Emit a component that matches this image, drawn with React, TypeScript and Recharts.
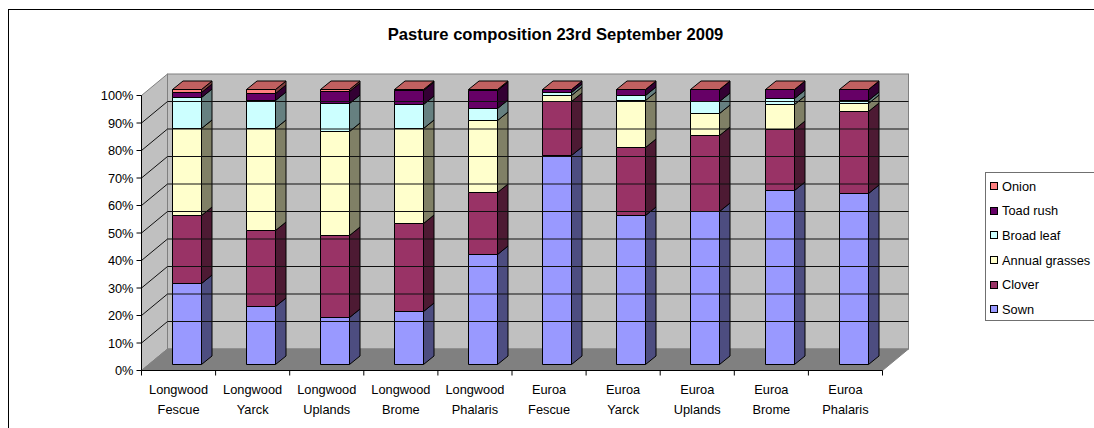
import { BarChart, Bar, XAxis, YAxis, Legend, ReferenceArea, ReferenceLine } from "recharts"

const categories = [
  "Longwood Fescue", "Longwood Yarck", "Longwood Uplands", "Longwood Brome", "Longwood Phalaris",
  "Euroa Fescue", "Euroa Yarck", "Euroa Uplands", "Euroa Brome", "Euroa Phalaris",
]
const sown = [29.3, 20.9, 16.9, 19.1, 40, 75.8, 54.1, 55.3, 63, 62.1]
const clover = [24.8, 27.7, 29.9, 32, 22.4, 19.6, 24.6, 27.7, 22.1, 29.6]
const annualGrasses = [31.4, 36.9, 37.8, 34.5, 26.1, 2.1, 17.3, 8, 9.1, 3.1]
const broadLeaf = [11.5, 10.3, 10.3, 8.8, 4.4, 1.2, 1.5, 4.3, 2.4, 0.9]
const toadRush = [1.8, 2.4, 4.2, 5, 6.4, 1.2, 2.4, 4.6, 3.3, 4.2]
const onion = [1.2, 1.8, 0.9, 0.6, 0.7, 0.1, 0.1, 0.1, 0.1, 0.1]
const yTicks = [0, 10, 20, 30, 40, 50, 60, 70, 80, 90, 100]
const gridTicks = [10, 20, 30, 40, 50, 60, 70, 80, 90]

const data = categories.map((name, i) => ({
  name,
  Sown: sown[i],
  Clover: clover[i],
  "Annual grasses": annualGrasses[i],
  "Broad leaf": broadLeaf[i],
  "Toad rush": toadRush[i],
  Onion: onion[i],
}))

const series = [
  { key: "Sown", fill: "#9999FF", side: "#4D4D80" },
  { key: "Clover", fill: "#993366", side: "#4D1A33" },
  { key: "Annual grasses", fill: "#FFFFCC", side: "#808066" },
  { key: "Broad leaf", fill: "#CCFFFF", side: "#668080" },
  { key: "Toad rush", fill: "#660066", side: "#330033" },
  { key: "Onion", fill: "#FF8080", side: "#804040", top: "#C06060" },
]
const legendOrder = series.map((s) => s.key).reverse()

const W = 1094
const H = 428
const PLOT_LEFT = 141.5
const PLOT_RIGHT = 882.5
const PLOT_TOP = 95.5
const PLOT_BOTTOM = 370.5
const AXIS_W = 60
const CAT_W = (PLOT_RIGHT - PLOT_LEFT) / categories.length
const font = "'Liberation Sans', Arial, sans-serif"

// depth of the box, and of a bar inside it
const DX = 26
const DY = 21.5
const BAR_DX = 10.5
const BAR_DY = 8.5
const SHIFT_X = 7.7
const SHIFT_Y = 6.5

const pts = (list: number[][]) => list.map((p) => p.join(",")).join(" ")

function Walls({ x, y, width, height }: any) {
  const r = x + width
  const b = y + height
  return (
    <g stroke="#808080" strokeWidth={1}>
      <polygon points={pts([[x, y], [x + DX, y - DY], [x + DX, b - DY], [x, b]])} fill="#C0C0C0" />
      <rect x={x + DX} y={y - DY} width={width} height={height} fill="#C0C0C0" />
      <polygon points={pts([[x, b], [x + DX, b - DY], [r + DX, b - DY], [r, b]])} fill="#808080" />
    </g>
  )
}

function GridLine({ x1, y1, x2 }: any) {
  const a = x1 ?? PLOT_LEFT
  return (
    <polyline
      points={pts([[a, y1], [a + DX, y1 - DY], [x2 + DX, y1 - DY]])}
      fill="none"
      stroke="#111"
      strokeWidth={1}
    />
  )
}

function Prism({ x, y, width, height, fill, side, top }: any) {
  const l = Math.floor(x + SHIFT_X) + 0.5
  const r = l + Math.round(width)
  const t = Math.floor(y - SHIFT_Y) + 0.5
  const b = Math.floor(y + height - SHIFT_Y) + 0.5
  return (
    <g stroke="#000" strokeWidth={1} strokeLinejoin="round">
      <polygon points={pts([[r, t], [r + BAR_DX, t - BAR_DY], [r + BAR_DX, b - BAR_DY], [r, b]])} fill={side} />
      {top && <polygon points={pts([[l, t], [l + BAR_DX, t - BAR_DY], [r + BAR_DX, t - BAR_DY], [r, t]])} fill={top} />}
      <rect x={l} y={t} width={r - l} height={b - t} fill={fill} />
    </g>
  )
}

function CategoryTick({ x, y, payload, index }: any) {
  const words = String(payload.value).split(" ")
  return (
    <g>
      <line x1={x - CAT_W / 2} x2={x - CAT_W / 2} y1={y - 8} y2={y - 3} stroke="#000" />
      {index === categories.length - 1 && <line x1={x + CAT_W / 2} x2={x + CAT_W / 2} y1={y - 8} y2={y - 3} stroke="#000" />}
      <text textAnchor="middle" fontFamily={font} fontSize={12.8} fill="#000">
        <tspan x={x} y={y + 15}>{words[0]}</tspan>
        <tspan x={x} y={y + 35}>{words[1]}</tspan>
      </text>
    </g>
  )
}

function LegendBox({ payload }: any) {
  const rows = legendOrder.map((k) => (payload || []).find((p: any) => p.value === k)).filter(Boolean)
  return (
    <div style={{ boxSizing: "border-box", width: 130, height: 149, border: "1px solid #707070", background: "#fff", paddingTop: 1 }}>
      {rows.map((row: any) => (
        <div key={row.value} style={{ height: 24.6, display: "flex", alignItems: "center", fontFamily: font, fontSize: 12.8, whiteSpace: "nowrap" }}>
          <span style={{ boxSizing: "border-box", width: 8, height: 8, marginLeft: 4, marginRight: 4, border: "1px solid #000", background: row.color }} />
          {row.value}
        </div>
      ))}
    </div>
  )
}

export default function App() {
  return (
    <div style={{ position: "relative", width: W, height: H, overflow: "hidden", background: "#fff" }}>
      <style>{"body{margin:0;overflow:hidden}"}</style>
      <div style={{ position: "absolute", left: 8, top: 9, width: W, height: H, borderLeft: "1px solid #000", borderTop: "1px solid #000" }} />
      <div style={{ position: "absolute", left: 287, width: 537, top: 25, textAlign: "center", fontFamily: font, fontWeight: "bold", fontSize: 16.6, lineHeight: "19px", color: "#000" }}>
        Pasture composition 23rd September 2009
      </div>
      <BarChart
        width={W}
        height={H}
        data={data}
        barSize={29}
        margin={{ top: PLOT_TOP, right: W - PLOT_RIGHT, bottom: 0, left: PLOT_LEFT - AXIS_W }}
        style={{ position: "absolute", left: 0, top: 0 }}
      >
        <ReferenceArea y1={0} y2={100} shape={<Walls />} />
        {gridTicks.map((t) => (
          <ReferenceLine key={t} y={t} shape={<GridLine />} />
        ))}
        <XAxis dataKey="name" interval={0} tickLine={false} tick={<CategoryTick />} axisLine={{ stroke: "#000" }} height={H - PLOT_BOTTOM} />
        <YAxis
          width={AXIS_W}
          domain={[0, 100]}
          ticks={yTicks}
          interval={0}
          tickSize={5}
          tickMargin={3}
          tickFormatter={(v: number) => v + "%"}
          axisLine={{ stroke: "#000" }}
          tickLine={{ stroke: "#000" }}
          tick={{ fill: "#000", fontFamily: font, fontSize: 12.8 }}
        />
        <Legend
          layout="vertical"
          align="center"
          verticalAlign="middle"
          content={<LegendBox />}
          wrapperStyle={{ left: 985, top: 172, width: 130, height: 149 }}
        />
        {series.map((s) => (
          <Bar
            key={s.key}
            dataKey={s.key}
            stackId="a"
            fill={s.fill}
            isAnimationActive={false}
            shape={<Prism side={s.side} top={s.top} />}
          />
        ))}
      </BarChart>
    </div>
  )
}
